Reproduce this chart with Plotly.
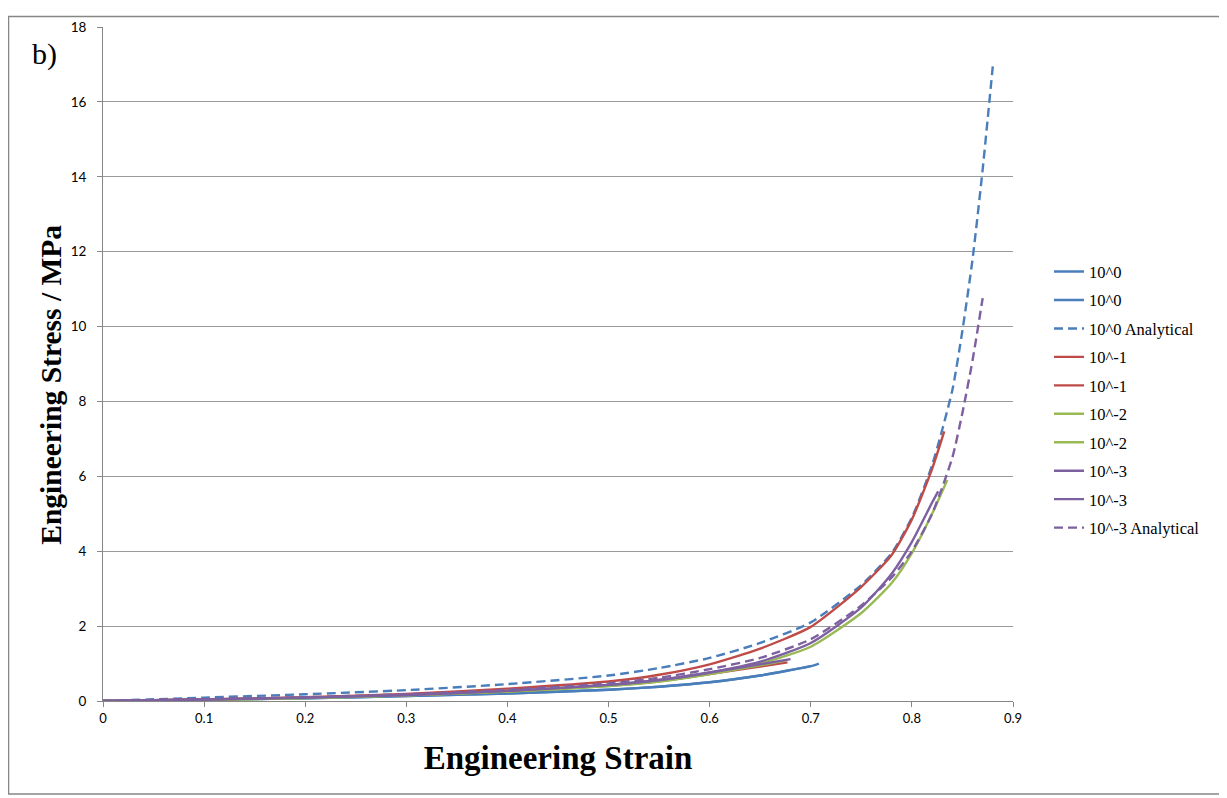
import plotly.graph_objects as go

# ---- data ----
blue_a_x = [0, 0.1, 0.2, 0.3, 0.4, 0.5, 0.55, 0.6, 0.65, 0.7, 0.708]
blue_a_y = [0, 0.03, 0.07, 0.13, 0.2, 0.3, 0.38, 0.5, 0.68, 0.93, 1.0]
blue_b_x = [0, 0.1, 0.2, 0.3, 0.4, 0.5, 0.55, 0.6, 0.65, 0.7]
blue_b_y = [0, 0.03, 0.07, 0.13, 0.2, 0.3, 0.38, 0.5, 0.68, 0.93]
blue_an_x = [0, 0.1, 0.2, 0.3, 0.4, 0.5, 0.55, 0.6, 0.65, 0.7, 0.75, 0.78, 0.8, 0.82, 0.84, 0.85, 0.86, 0.87, 0.88]
blue_an_y = [0, 0.09, 0.18, 0.29, 0.45, 0.68, 0.88, 1.15, 1.55, 2.1, 3.1, 3.95, 4.9, 6.3, 8.3, 9.9, 11.8, 14.2, 16.95]

red_a_x = [0, 0.1, 0.2, 0.3, 0.4, 0.5, 0.55, 0.6, 0.65, 0.7, 0.75, 0.78, 0.8, 0.82, 0.832]
red_a_y = [0, 0.04, 0.1, 0.19, 0.33, 0.52, 0.7, 0.98, 1.4, 1.98, 3.05, 3.9, 4.85, 6.2, 7.2]
red_b_x = [0, 0.1, 0.2, 0.3, 0.4, 0.5, 0.55, 0.6, 0.65, 0.677]
red_b_y = [0, 0.04, 0.09, 0.16, 0.26, 0.41, 0.53, 0.72, 0.92, 1.03]

green_a_x = [0, 0.1, 0.2, 0.3, 0.4, 0.5, 0.55, 0.6, 0.65, 0.7, 0.75, 0.78, 0.8, 0.82, 0.835]
green_a_y = [0, 0.03, 0.08, 0.15, 0.25, 0.4, 0.52, 0.72, 1.0, 1.45, 2.35, 3.15, 3.95, 5.0, 5.9]
green_b_x = [0, 0.1, 0.2, 0.3, 0.4, 0.5, 0.55, 0.6, 0.65, 0.675]
green_b_y = [0, 0.03, 0.08, 0.15, 0.25, 0.4, 0.52, 0.72, 0.95, 1.08]

purple_a_x = [0, 0.1, 0.2, 0.3, 0.4, 0.5, 0.55, 0.6, 0.65, 0.7, 0.75, 0.78, 0.8, 0.82, 0.826]
purple_a_y = [0, 0.04, 0.09, 0.16, 0.27, 0.43, 0.56, 0.76, 1.05, 1.55, 2.5, 3.4, 4.25, 5.3, 5.6]
purple_b_x = [0, 0.1, 0.2, 0.3, 0.4, 0.5, 0.55, 0.6, 0.65, 0.68]
purple_b_y = [0, 0.04, 0.09, 0.16, 0.27, 0.43, 0.56, 0.76, 0.98, 1.12]
purple_an_x = [0, 0.1, 0.2, 0.3, 0.4, 0.5, 0.55, 0.6, 0.65, 0.7, 0.75, 0.78, 0.8, 0.82, 0.84, 0.85, 0.86, 0.87]
purple_an_y = [0, 0.05, 0.1, 0.18, 0.3, 0.47, 0.62, 0.85, 1.15, 1.65, 2.55, 3.3, 4.0, 5.0, 6.5, 7.7, 9.1, 10.76]

x_ticks = [0, 0.1, 0.2, 0.3, 0.4, 0.5, 0.6, 0.7, 0.8, 0.9]
x_labels = ["0", "0.1", "0.2", "0.3", "0.4", "0.5", "0.6", "0.7", "0.8", "0.9"]
y_ticks = [0, 2, 4, 6, 8, 10, 12, 14, 16, 18]

BLUE = "#4A7EBB"
RED = "#BE4B48"
GREEN = "#98B954"
PURPLE = "#7D60A0"

series = [
    ("10^0", blue_a_x, blue_a_y, BLUE, "solid"),
    ("10^0", blue_b_x, blue_b_y, BLUE, "solid"),
    ("10^0 Analytical", blue_an_x, blue_an_y, BLUE, "dash"),
    ("10^-1", red_a_x, red_a_y, RED, "solid"),
    ("10^-1", red_b_x, red_b_y, RED, "solid"),
    ("10^-2", green_a_x, green_a_y, GREEN, "solid"),
    ("10^-2", green_b_x, green_b_y, GREEN, "solid"),
    ("10^-3", purple_a_x, purple_a_y, PURPLE, "solid"),
    ("10^-3", purple_b_x, purple_b_y, PURPLE, "solid"),
    ("10^-3 Analytical", purple_an_x, purple_an_y, PURPLE, "dash"),
]

fig = go.Figure()
for i, (name, xs, ys, col, dash) in enumerate(series):
    fig.add_trace(go.Scatter(
        x=xs, y=ys, mode="lines", name=name, legendgroup=f"g{i}",
        line=dict(color=col, width=2.4, dash=dash if dash == "solid" else "9px,5px",
                  shape="spline", smoothing=0.6),
    ))

# page has an 8px body margin; figure coordinates = page coordinates - 8
OFF = 8
W, H = 1227 - OFF, 798 - OFF
L, R, T, B = 103 - OFF, 1013 - OFF, 19 - OFF, 701 - OFF
pw, ph = R - L, B - T

def px(xp):
    return (xp - OFF - L) / pw

def py(yp):
    return (B - (yp - OFF)) / ph

fig.update_layout(
    width=W, height=H,
    margin=dict(l=L, r=W - R, t=T, b=H - B),
    paper_bgcolor="white", plot_bgcolor="white",
    showlegend=True,
    legend=dict(
        x=px(1049), y=py(249), xanchor="left", yanchor="top",
        font=dict(family="Liberation Serif", size=16.5, color="black"),
        tracegroupgap=4, bgcolor="rgba(0,0,0,0)",
    ),
    xaxis=dict(
        range=[0, 0.9], tickvals=x_ticks, ticktext=x_labels,
        showgrid=False, zeroline=False, showline=True, linecolor="#868686", linewidth=1,
        ticks="outside", ticklen=5, tickcolor="#868686",
        tickfont=dict(family="Lato", size=13, color="black"),
        title=dict(text="<b>Engineering Strain</b>",
                   font=dict(family="Liberation Serif", size=33, color="black"), standoff=21),
    ),
    yaxis=dict(
        range=[0, 18], tickvals=y_ticks,
        showgrid=True, gridcolor="#9A9A9A", gridwidth=1, zeroline=False,
        showline=True, linecolor="#868686", linewidth=1,
        ticks="outside", ticklen=5, tickcolor="#868686", ticklabelstandoff=8,
        tickfont=dict(family="Lato", size=13.5, color="black"),
    ),
    shapes=[dict(type="rect", xref="paper", yref="paper",
                 x0=px(8.5), x1=px(1221), y0=py(795), y1=py(8.5),
                 line=dict(color="#868686", width=1.5), fillcolor="rgba(0,0,0,0)", layer="below")],
    annotations=[
        dict(text="b)", xref="paper", yref="paper", x=px(30), y=py(46),
             xanchor="left", yanchor="middle", showarrow=False,
             font=dict(family="Liberation Serif", size=30, color="black")),
        dict(text="<b>Engineering Stress / MPa</b>", xref="paper", yref="paper",
             x=px(51), y=py(381), xanchor="center", yanchor="middle", textangle=-90,
             showarrow=False, font=dict(family="Liberation Serif", size=29.5, color="black")),
    ],
)

fig.write_html("out.html")
